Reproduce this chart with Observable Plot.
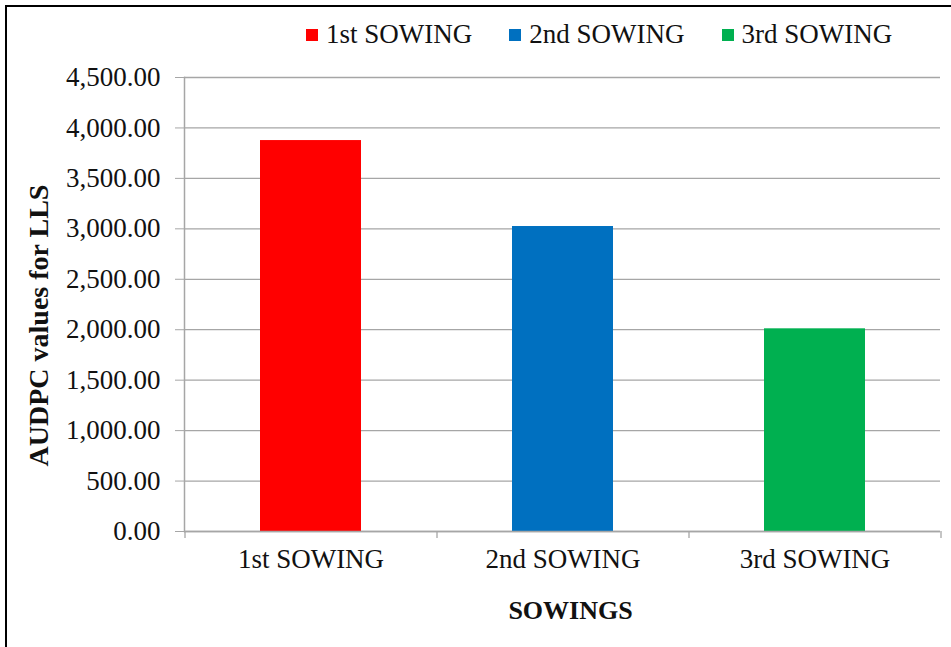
<!DOCTYPE html>
<html>
<head>
<meta charset="utf-8">
<script src="https://cdn.jsdelivr.net/npm/d3@7"></script>
<script src="https://cdn.jsdelivr.net/npm/@observablehq/plot@0.6"></script>
<style>
  html, body { margin: 0; padding: 0; background: #fff; }
  #wrap { position: relative; width: 951px; height: 647px; overflow: hidden; background: #fff; }
  #border { position: absolute; left: 5px; top: 5px; width: 960px; height: 700px; border-left: 2px solid #000; border-top: 2px solid #000; box-sizing: border-box; }
  #legend { position: absolute; left: 306px; top: 21px; display: flex; gap: 37px; font-family: "Liberation Serif", "Times New Roman", "DejaVu Serif", serif; font-size: 27px; line-height: 27px; color: #111; }
  .item { display: flex; align-items: center; }
  .sw { width: 12px; height: 12px; margin-right: 8px; }
  #chart { position: absolute; left: 0; top: 0; }
  #chart svg text { font-family: "Liberation Serif", "Times New Roman", "DejaVu Serif", serif; }
</style>
</head>
<body>
<div id="wrap">
  <div id="border"></div>
  <div id="chart"></div>
  <div id="legend"></div>
</div>
<script>
const categories = ["1st SOWING", "2nd SOWING", "3rd SOWING"];
const values = [3875, 3023, 2009];
const colors = ["#ff0000", "#0070c0", "#00b050"];
const yTicks = [0, 500, 1000, 1500, 2000, 2500, 3000, 3500, 4000, 4500];
const yLabel = "AUDPC values for LLS";
const xLabel = "SOWINGS";

const data = categories.map((c, i) => ({category: c, value: values[i]}));

const width = 951, height = 647;
const marginLeft = 184, marginRight = 11, marginTop = 77, marginBottom = 116;
const step = (width - marginLeft - marginRight) / categories.length;

const grid = "#a6a6a6";
const serif = "'Liberation Serif', 'Times New Roman', 'DejaVu Serif', serif";

const chart = Plot.plot({
  width, height, marginLeft, marginRight, marginTop, marginBottom,
  style: {fontFamily: serif, fontSize: "27px", color: "#111", background: "transparent"},
  x: {domain: categories, paddingInner: 0.6, paddingOuter: 0.3, axis: null},
  y: {domain: [0, 4500], axis: null},
  color: {domain: categories, range: colors},
  marks: [
    Plot.gridY(yTicks, {stroke: grid, strokeOpacity: 1, strokeWidth: 1.3}),
    Plot.barY(data, {x: "category", y: "value", fill: "category"}),
    Plot.frame({anchor: "left", stroke: grid, strokeWidth: 1.5}),
    Plot.ruleY([0], {stroke: grid, strokeWidth: 1.5}),
    Plot.axisY({ticks: yTicks, tickSize: 9, tickPadding: 15, stroke: grid, fill: "#111", tickFormat: d3.format(",.2f"), label: null, fontSize: 27}),
    Plot.axisX({tickSize: 0, tickPadding: 17, fill: "#111", label: null, fontSize: 27}),
    Plot.ruleX(categories, {x: d => d, dx: -step / 2, y1: 0, y2: -70, stroke: grid, strokeWidth: 1.3}),
    Plot.ruleX(categories.slice(-1), {x: d => d, dx: step / 2, y1: 0, y2: -70, stroke: grid, strokeWidth: 1.3}),
    Plot.text([yLabel], {frameAnchor: "left", textAnchor: "middle", lineAnchor: "middle", rotate: -90, dx: -145, dy: 21, fontWeight: "bold", fontSize: 28, fill: "#111"}),
    Plot.text([xLabel], {frameAnchor: "bottom", textAnchor: "middle", lineAnchor: "middle", dy: 79, dx: 8, fontWeight: "bold", fontSize: 26, fill: "#111"})
  ]
});
document.getElementById("chart").appendChild(chart);

const legend = document.getElementById("legend");
categories.forEach((c, i) => {
  const item = document.createElement("div");
  item.className = "item";
  const sw = document.createElement("span");
  sw.className = "sw";
  sw.style.background = colors[i];
  const t = document.createElement("span");
  t.textContent = c;
  item.appendChild(sw);
  item.appendChild(t);
  legend.appendChild(item);
});
</script>
</body>
</html>
